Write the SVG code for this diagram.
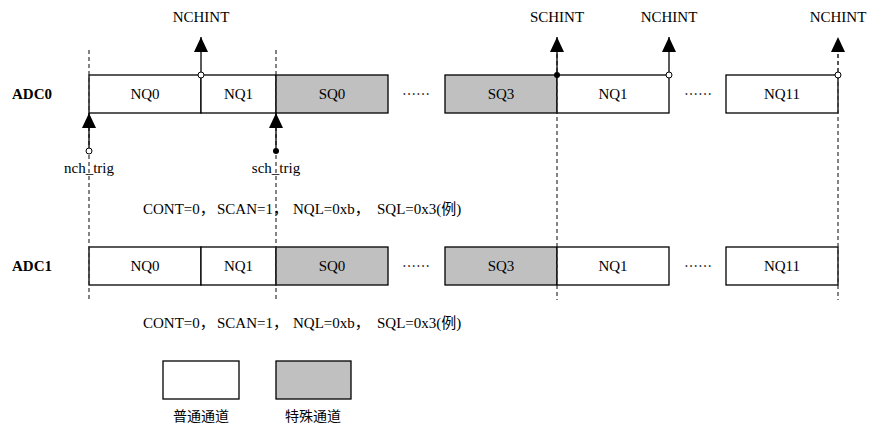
<svg xmlns="http://www.w3.org/2000/svg" width="869" height="428" viewBox="0 0 869 428">
<style>
.t{font-family:"Liberation Serif","Noto Sans CJK SC",serif;font-size:15px;fill:#000}
.c{text-anchor:middle}
.b{font-weight:bold}
.cj{font-family:"Noto Sans CJK SC",sans-serif;font-size:14px;fill:#000}
.n{fill:#fff;stroke:#000;stroke-width:1.3}
.s{fill:#c0c0c0;stroke:#000;stroke-width:1.3}
.d{stroke:#333;stroke-width:1.2;stroke-dasharray:4,3;fill:none}
.l{stroke:#000;stroke-width:1.3;fill:none}
.oc{fill:#fff;stroke:#000;stroke-width:1}
.fc{fill:#000}
</style>
<defs>
<marker id="ah" viewBox="0 0 15 14" refX="15" refY="7" markerWidth="15" markerHeight="14" markerUnits="userSpaceOnUse" orient="auto">
<path d="M0,0 L15,7 L0,14 Z" fill="#000"/>
</marker>
</defs>

<g id="adc0-row">
<text class="t b" x="12" y="99">ADC0</text>
<g id="adc0-nq0"><rect class="n" x="89" y="75" width="112" height="38"/><text class="t c" x="145" y="99">NQ0</text></g>
<g id="adc0-nq1"><rect class="n" x="201" y="75" width="75" height="38"/><text class="t c" x="238.5" y="99">NQ1</text></g>
<g id="adc0-sq0"><rect class="s" x="276" y="75" width="112" height="38"/><text class="t c" x="332" y="99">SQ0</text></g>
<text class="cj c" x="416" y="99">……</text>
<g id="adc0-sq3"><rect class="s" x="445" y="75" width="112" height="38"/><text class="t c" x="501" y="99">SQ3</text></g>
<g id="adc0-nq1b"><rect class="n" x="557" y="75" width="112" height="38"/><text class="t c" x="613" y="99">NQ1</text></g>
<text class="cj c" x="698" y="99">……</text>
<g id="adc0-nq11"><rect class="n" x="726" y="75" width="112" height="38"/><text class="t c" x="782" y="99">NQ11</text></g>
</g>

<g id="adc1-row">
<text class="t b" x="12" y="271">ADC1</text>
<g id="adc1-nq0"><rect class="n" x="89" y="247" width="112" height="38"/><text class="t c" x="145" y="271">NQ0</text></g>
<g id="adc1-nq1"><rect class="n" x="201" y="247" width="75" height="38"/><text class="t c" x="238.5" y="271">NQ1</text></g>
<g id="adc1-sq0"><rect class="s" x="276" y="247" width="112" height="38"/><text class="t c" x="332" y="271">SQ0</text></g>
<text class="cj c" x="416" y="271">……</text>
<g id="adc1-sq3"><rect class="s" x="445" y="247" width="112" height="38"/><text class="t c" x="501" y="271">SQ3</text></g>
<g id="adc1-nq1b"><rect class="n" x="557" y="247" width="112" height="38"/><text class="t c" x="613" y="271">NQ1</text></g>
<text class="cj c" x="698" y="271">……</text>
<g id="adc1-nq11"><rect class="n" x="726" y="247" width="112" height="38"/><text class="t c" x="782" y="271">NQ11</text></g>
</g>

<g id="connectors">
<line class="d" x1="89" y1="50" x2="89" y2="300"/>
<line class="d" x1="276" y1="50" x2="276" y2="300"/>
<line class="d" x1="557" y1="40" x2="557" y2="300"/>
<line class="d" x1="838" y1="40" x2="838" y2="300"/>
<line class="l" x1="201" y1="72" x2="201" y2="37" marker-end="url(#ah)"/>
<line class="l" x1="557" y1="75" x2="557" y2="37" marker-end="url(#ah)"/>
<line class="l" x1="669" y1="72" x2="669" y2="37" marker-end="url(#ah)"/>
<line class="d" x1="838" y1="72" x2="838" y2="37" marker-end="url(#ah)"/>
<line class="l" x1="89" y1="148" x2="89" y2="113" marker-end="url(#ah)"/>
<line class="l" x1="276" y1="151" x2="276" y2="113" marker-end="url(#ah)"/>
<circle class="oc" cx="201" cy="75" r="3"/>
<circle class="fc" cx="557" cy="75" r="3"/>
<circle class="oc" cx="669" cy="75" r="3"/>
<circle class="oc" cx="838" cy="75" r="3"/>
<circle class="oc" cx="89" cy="151" r="3"/>
<circle class="fc" cx="276" cy="151" r="3"/>
</g>

<g id="labels">
<text class="t c" x="201" y="22">NCHINT</text>
<text class="t c" x="557" y="22">SCHINT</text>
<text class="t c" x="669" y="22">NCHINT</text>
<text class="t c" x="838" y="22">NCHINT</text>
<text class="t c" x="89" y="173">nch_trig</text>
<text class="t c" x="276" y="173">sch_trig</text>
<text class="t" y="214"><tspan x="143">CONT=0，</tspan><tspan x="217">SCAN=1，</tspan><tspan x="293">NQL=0xb，</tspan><tspan x="377">SQL=0x3(例)</tspan></text>
<text class="t" y="328"><tspan x="143">CONT=0，</tspan><tspan x="217">SCAN=1，</tspan><tspan x="293">NQL=0xb，</tspan><tspan x="377">SQL=0x3(例)</tspan></text>
</g>

<g id="legend">
<g id="legend-normal"><rect class="n" x="163" y="361" width="76" height="38"/><text class="cj c" x="201" y="421">普通通道</text></g>
<g id="legend-special"><rect class="s" x="276" y="361" width="75" height="38"/><text class="cj c" x="313" y="421">特殊通道</text></g>
</g>
</svg>
